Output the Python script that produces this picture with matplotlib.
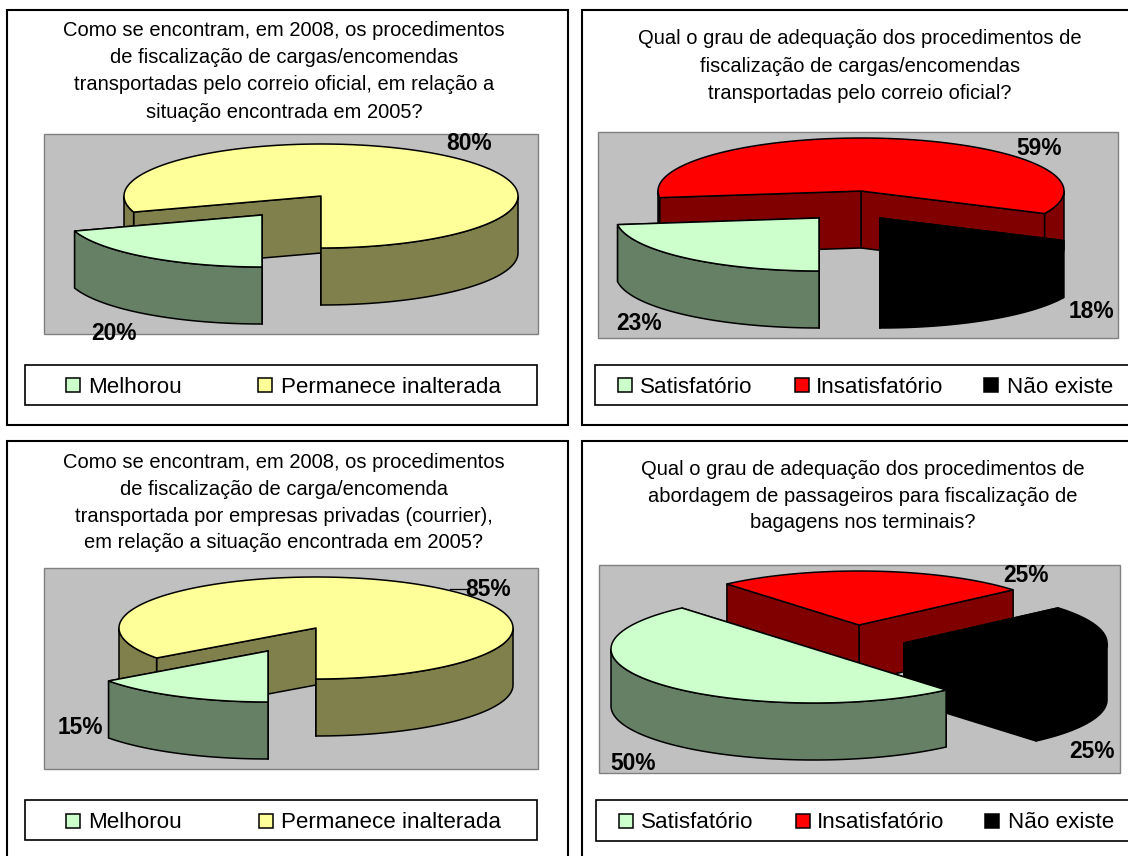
import numpy as np
import matplotlib
matplotlib.use('Agg')
import matplotlib.pyplot as plt
from matplotlib.patches import Polygon, Rectangle

plt.rcParams['font.family'] = ['Liberation Sans', 'DejaVu Sans']

# dados
titulo_1 = ['Como se encontram, em 2008, os procedimentos', 'de fiscalização de cargas/encomendas',
            'transportadas pelo correio oficial, em relação a', 'situação encontrada em 2005?']
titulo_2 = ['Qual o grau de adequação dos procedimentos de', 'fiscalização de cargas/encomendas',
            'transportadas pelo correio oficial?']
titulo_3 = ['Como se encontram, em 2008, os procedimentos', 'de fiscalização de carga/encomenda',
            'transportada por empresas privadas (courrier),', 'em relação a situação encontrada em 2005?']
titulo_4 = ['Qual o grau de adequação dos procedimentos de', 'abordagem de passageiros para fiscalização de',
            'bagagens nos terminais?']

cat_a = ['Melhorou', 'Permanece inalterada']
cat_b = ['Satisfatório', 'Insatisfatório', 'Não existe']

valores_1 = [20, 80]
valores_2 = [23, 59, 18]
valores_3 = [15, 85]
valores_4 = [50, 25, 25]

# cores
cores_a = ['#CCFFCC', '#FFFF99']
lados_a = ['#668066', '#80804D']
cores_b = ['#CCFFCC', '#FF0000', '#000000']
lados_b = ['#668066', '#800000', '#000000']

# layout em pixels, um dict por painel
paineis = [
    dict(titulo=titulo_1, cats=cat_a, vals=valores_1, cores=cores_a, lados=lados_a, inicio=270,
         moldura=(7, 10, 561, 415), titulo_y=[29, 56, 83, 111], titulo_x=284,
         fundo=(44, 134, 494, 200),
         centros=[(262, 215), (321, 196)], raio=(197, 52), ordem=[1, 0],
         rotulos=[(114, 333), (469, 143)],
         caixa=(25, 365, 512, 40), leg_y=385, leg_q=[66, 258], leg_t=[88, 281]),
    dict(titulo=titulo_2, cats=cat_b, vals=valores_2, cores=cores_b, lados=lados_b, inicio=270,
         moldura=(582, 10, 560, 415), titulo_y=[37, 65, 92], titulo_x=860,
         fundo=(598, 132, 520, 206),
         centros=[(819, 218), (861, 191), (880, 218)], raio=(203, 53), ordem=[1, 0, 2],
         rotulos=[(639, 323), (1039, 148), (1091, 311)],
         caixa=(595, 365, 550, 40), leg_y=385, leg_q=[618, 795, 984], leg_t=[640, 816, 1007]),
    dict(titulo=titulo_3, cats=cat_a, vals=valores_3, cores=cores_a, lados=lados_a, inicio=270,
         moldura=(7, 441, 561, 430), titulo_y=[461, 488, 515, 542], titulo_x=284,
         fundo=(44, 568, 494, 201),
         centros=[(268, 651), (316, 628)], raio=(197, 51), ordem=[1, 0],
         rotulos=[(80, 728), (488, 590)],
         caixa=(25, 800, 512, 40), leg_y=821, leg_q=[66, 259], leg_t=[88, 281]),
    dict(titulo=titulo_4, cats=cat_b, vals=valores_4, cores=cores_b, lados=lados_b, inicio=310.6,
         moldura=(582, 441, 560, 430), titulo_y=[468, 495, 522], titulo_x=863,
         fundo=(599, 565, 521, 208),
         centros=[(814, 649), (859, 625), (904, 643)], raio=(203, 54), ordem=[1, 2, 0],
         rotulos=[(633, 764), (1026, 575), (1092, 752)],
         caixa=(596, 800, 550, 41), leg_y=821, leg_q=[619, 796, 985], leg_t=[641, 817, 1008]),
]
altura = 57


def ponto(c, raio, ang):
    a = np.radians(ang)
    return c[0] + raio[0] * np.cos(a), c[1] - raio[1] * np.sin(a)


def arco(c, raio, a0, a1):
    angs = np.linspace(a0, a1, max(int(abs(a1 - a0)), 2) + 1)
    return list(zip(*ponto(c, raio, angs)))


def fatia(ax, c, raio, a0, a1, cor, lado):
    # a0 < a1, anti-horario; primeiro as paredes internas, depois a externa e o topo
    estilo = dict(edgecolor='black', linewidth=1.1, joinstyle='round')
    for a in (a0, a1):
        p = ponto(c, raio, a)
        ax.add_patch(Polygon([c, p, (p[0], p[1] + altura), (c[0], c[1] + altura)],
                             facecolor=lado, **estilo))
    for v0, v1 in ((-180, 0), (180, 360), (540, 720)):
        i0, i1 = max(a0, v0), min(a1, v1)
        if i1 > i0:
            topo = arco(c, raio, i0, i1)
            base = [(x, y + altura) for x, y in topo[::-1]]
            ax.add_patch(Polygon(topo + base, facecolor=lado, **estilo))
    ax.add_patch(Polygon([c] + arco(c, raio, a0, a1), facecolor=cor, **estilo))


fig = plt.figure(figsize=(11.28, 8.56), dpi=100)
ax = fig.add_axes([0, 0, 1, 1])
ax.set_xlim(0, 1128)
ax.set_ylim(856, 0)
ax.axis('off')

for p in paineis:
    ax.add_patch(Rectangle(p['moldura'][:2], p['moldura'][2], p['moldura'][3],
                           facecolor='white', edgecolor='black', linewidth=1.5))
    for linha, y in zip(p['titulo'], p['titulo_y']):
        ax.text(p['titulo_x'], y + 1, linha, ha='center', va='center', fontsize=14.5, color='black')
    ax.add_patch(Rectangle(p['fundo'][:2], p['fundo'][2], p['fundo'][3],
                           facecolor='#C0C0C0', edgecolor='#808080', linewidth=1))

    # angulos das fatias, sentido horario a partir do inicio
    total = sum(p['vals'])
    fim = p['inicio'] - np.cumsum(p['vals']) / total * 360
    ini = np.concatenate(([p['inicio']], fim[:-1]))
    for i in p['ordem']:
        fatia(ax, p['centros'][i], p['raio'], fim[i], ini[i], p['cores'][i], p['lados'][i])

    for v, pos in zip(p['vals'], p['rotulos']):
        ax.text(pos[0], pos[1], f'{v}%', ha='center', va='center', fontsize=16.4,
                fontweight='bold', color='black')

    ax.add_patch(Rectangle(p['caixa'][:2], p['caixa'][2], p['caixa'][3],
                           facecolor='white', edgecolor='black', linewidth=1.2))
    for nome, cor, xq, xt in zip(p['cats'], p['cores'], p['leg_q'], p['leg_t']):
        ax.add_patch(Rectangle((xq, p['leg_y'] - 7), 14, 14, facecolor=cor, edgecolor='black', linewidth=1.1))
        ax.text(xt, p['leg_y'] + 2, nome, ha='left', va='center', fontsize=16.1, color='black')

# linha de chamada do 85%
ax.plot([450, 466], [589, 589], color='black', linewidth=0.9)

fig.savefig('out.png', dpi=100)
